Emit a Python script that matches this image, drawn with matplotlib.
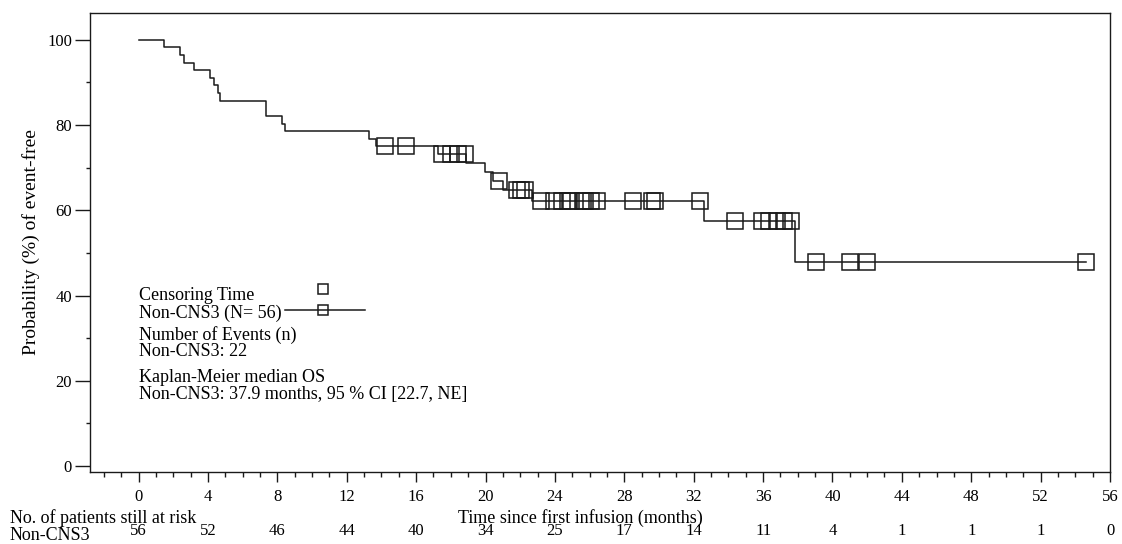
import numpy as np
import matplotlib
matplotlib.use("Agg")
import matplotlib.pyplot as plt
import matplotlib.transforms as mtransforms
from matplotlib.ticker import MultipleLocator

plt.rcParams['font.family'] = ['Liberation Serif', 'DejaVu Serif']

# Kaplan-Meier step curve (months, % event-free)
step_times = [0, 1.44, 2.36, 2.64, 3.18, 4.12, 4.37, 4.58, 4.70, 7.32, 8.24, 8.45,
              13.28, 13.70, 17.24, 18.87, 19.95, 20.46, 21.0, 22.7, 32.6, 37.85, 54.64]
step_surv = [100, 98.21, 96.43, 94.64, 92.86, 91.07, 89.29, 87.50, 85.71, 82.14, 80.36, 78.57,
             76.79, 75.00, 73.13, 71.04, 68.95, 66.86, 64.70, 62.30, 57.50, 47.90, 47.90]

# censoring times (months)
censor_times = [14.2, 15.4, 17.5, 18.0, 18.4, 18.8, 20.8, 21.8, 22.05, 22.3,
                23.2, 23.95, 24.4, 24.75, 24.9, 25.6, 25.75, 26.1, 26.4,
                28.5, 29.6, 29.75, 32.38, 34.4, 35.95, 36.35, 36.8, 37.2, 37.6,
                39.06, 41.03, 42.0, 54.64]

# number at risk table
risk_times = [0, 4, 8, 12, 16, 20, 24, 28, 32, 36, 40, 44, 48, 52, 56]
risk_counts = [56, 52, 46, 44, 40, 34, 25, 17, 14, 11, 4, 1, 1, 1, 0]

legend_lines = ["Censoring Time", "Non-CNS3 (N= 56)", "Number of Events (n)", "Non-CNS3: 22",
                "Kaplan-Meier median OS", "Non-CNS3: 37.9 months, 95 % CI [22.7, NE]"]

fig = plt.figure(figsize=(11.22, 5.44), dpi=100)
ax = fig.add_axes([90 / 1122, 1 - 472 / 544, 1020 / 1122, 459 / 544])

lc = '#1a1a1a'
ax.step(step_times, step_surv, where='post', color=lc, lw=1.1)

idx = np.searchsorted(step_times, censor_times, side='right') - 1
cy = np.array(step_surv)[idx]
ax.plot(censor_times, cy, 's', ms=11, mfc='none', mec=lc, mew=1.1)

ax.set_xlim(-2.8, 56)
ax.set_ylim(-1.4, 106.3)
ax.xaxis.set_major_locator(MultipleLocator(4))
ax.xaxis.set_minor_locator(MultipleLocator(1))
ax.yaxis.set_major_locator(MultipleLocator(20))
ax.yaxis.set_minor_locator(MultipleLocator(10))
ax.tick_params(axis='both', which='both', width=1, color=lc, labelsize=12)
ax.tick_params(axis='x', which='major', length=7, pad=5)
ax.tick_params(axis='x', which='minor', length=3.5)
ax.tick_params(axis='y', which='major', length=11, pad=2)
ax.tick_params(axis='y', which='minor', length=3)
for s in ax.spines.values():
    s.set_linewidth(1.0)
    s.set_color(lc)

ax.set_ylabel("Probability (%) of event-free", fontsize=14, labelpad=5)

# legend block drawn as text
ly = [295, 313, 335, 352, 377, 395]
for txt, y in zip(legend_lines, ly):
    fig.text(139 / 1122, 1 - y / 544, txt, fontsize=13, va='center', ha='left')
fig.add_artist(plt.Line2D([285 / 1122, 365 / 1122], [1 - 310 / 544] * 2, color=lc, lw=1.1))
fig.add_artist(plt.Line2D([323 / 1122], [1 - 310 / 544], marker='s', ms=7, mfc='none', mec=lc, mew=1.1))
fig.add_artist(plt.Line2D([323 / 1122], [1 - 289 / 544], marker='s', ms=7, mfc='none', mec=lc, mew=1.1))

# risk table
fig.text(580 / 1122, 1 - 518 / 544, "Time since first infusion (months)", fontsize=13,
         ha='center', va='center')
fig.text(10 / 1122, 1 - 518 / 544, "No. of patients still at risk", fontsize=13, va='center')
fig.text(10 / 1122, 1 - 535 / 544, "Non-CNS3", fontsize=13, va='center')
trans = mtransforms.blended_transform_factory(ax.transData, fig.transFigure)
for t, n in zip(risk_times, risk_counts):
    ax.text(t, 1 - 531 / 544, str(n), transform=trans, fontsize=12, ha='center', va='center')

fig.savefig("out.png", dpi=100)
